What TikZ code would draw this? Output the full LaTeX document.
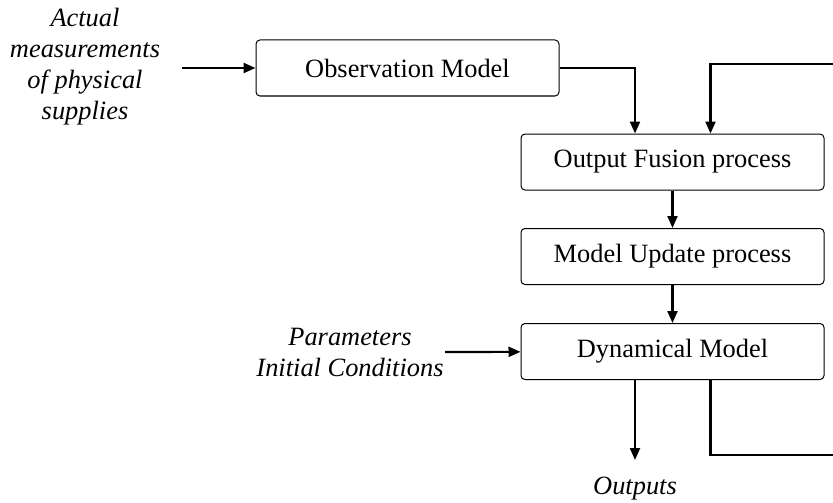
\documentclass[tikz,border=0pt]{standalone}
\usepackage{fontspec}
\setmainfont{Liberation Serif}
\usetikzlibrary{arrows.meta}
\begin{document}
\begin{tikzpicture}[x=1pt,y=-1pt,
  box/.style={draw,line width=1pt,rounded corners=4pt,minimum width=303pt,minimum height=56pt,inner sep=0pt,font=\fontsize{26.4}{31}\selectfont},
  lbl/.style={font=\fontsize{26.4}{31}\selectfont\itshape,align=center,inner sep=0pt},
  conn/.style={line width=2.2pt,-{Triangle[length=12pt,width=10pt]}}]
\clip (0,0) rectangle (833,503);
\node[box] (obs) at (407.5,68) {Observation Model};
\node[box] (fus) at (672.5,162) {Output Fusion process};
\node[box] (upd) at (672.5,256.5) {Model Update process};
\node[box] (dyn) at (672.5,351.5) {Dynamical Model};
\node[lbl] (act) at (85,67) {Actual\\measurements\\of physical\\supplies};
\node[lbl] (par) at (350,352) {Parameters\\Initial Conditions};
\node[lbl] (out) at (635,489) {Outputs};
\coordinate (ain) at (182,68);
\coordinate (pin) at (445,352);
\coordinate (oend) at (635,460);
\coordinate (xa) at (635,0);
\coordinate (xb) at (710.5,0);
\coordinate (fb1) at (845,455);
\coordinate (fb2) at (845,64);
\draw[conn] (ain) -- (obs);
\draw[conn] (obs.east) -| (fus.north -| xa);
\draw[conn] (fus) -- (upd);
\draw[conn] (upd) -- (dyn);
\draw[conn] (pin) -- (dyn);
\draw[conn] (dyn.south -| xa) -- (oend);
\draw[conn] (dyn.south -| xb) |- (fb1) -- (fb2) -| (fus.north -| xb);
\end{tikzpicture}
\end{document}
